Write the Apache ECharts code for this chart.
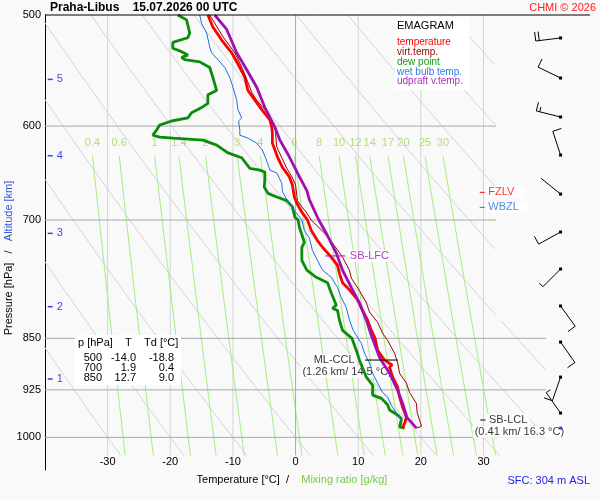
<!DOCTYPE html>
<html><head><meta charset="utf-8">
<script src="https://cdn.jsdelivr.net/npm/echarts@6.0.0/dist/echarts.min.js"></script>
<style>html,body{margin:0;padding:0;background:#f9f9f9}#c{width:600px;height:500px}</style>
</head><body><div id="c"></div>
<script>
// ---------------- data ----------------
const pressureTicks = [500, 600, 700, 850, 925, 1000];
const tempTicks = [-30, -20, -10, 0, 10, 20, 30];
const mixRatios = [0.4, 0.6, 1, 1.4, 2, 3, 4, 6, 8, 10, 12, 14, 17, 20, 25, 30];
const dryAdiabatTheta = [-30, -20, -10, 0, 10, 20, 30, 40, 50, 60, 70, 80, 90, 100];
const altKm = [1, 2, 3, 4, 5];
const altP = [908.7, 807.0, 715.5, 629.9, 555.7];

const tempP = [500,510,521,532,545,554,566,575,584,594,601,607,617,631,642,652,661,674,681,691,700,712,724,732,744,754,764,776,785,798,812,825,839,850,867,881,888,891,906,921,936,952,968,977,985];
const tempT = [-14.0,-13.2,-11.8,-10.2,-8.9,-8.1,-7.6,-6.5,-5.4,-4.1,-3.8,-3.7,-3.7,-2.9,-2.1,-1.0,-0.5,-0.2,0.2,1.0,1.9,2.5,3.5,4.3,5.7,6.7,7.0,7.5,8.6,9.9,10.7,11.5,12.1,12.7,13.1,14.2,15.4,15.0,15.5,16.3,16.6,17.1,17.7,17.4,17.1];

const virtP = [500,518,532,547,563,568,575,584,594,601,607,621,632,643,652,661,678,685,692,700,715,730,744,760,770,786,802,814,828,843,853,871,885,900,915,929,946,960,972,982,985];
const virtT = [-13.7,-11.6,-9.7,-8.4,-7.3,-7.0,-6.2,-4.9,-3.8,-3.3,-3.2,-3.0,-2.2,-1.4,-0.6,0.0,0.3,1.0,1.8,2.5,4.6,6.2,7.5,8.6,8.9,10.2,11.3,11.8,13.1,13.9,14.7,15.8,16.3,16.6,17.7,18.2,19.3,19.4,19.8,20.1,19.3];

const dewP = [500,504,515,519,523,528,531,534,536,538,540,545,554,566,570,578,582,587,592,595,599,604,609,611,612,614,619,627,632,643,645,647,656,663,670,674,678,685,697,700,708,726,732,748,760,769,776,789,805,809,812,825,839,850,867,881,906,918,933,938,948,956,964,970,983,985];
const dewT = [-18.8,-17.4,-16.9,-17.2,-19.6,-19.6,-18.2,-17.2,-18.2,-17.7,-15.3,-13.7,-13.2,-12.6,-14.0,-14.0,-15.0,-16.6,-17.2,-19.8,-21.7,-22.2,-22.8,-21.7,-19.5,-14.8,-12.6,-10.8,-8.6,-7.3,-5.7,-4.9,-4.9,-5.0,-4.4,-3.0,-1.4,-0.5,-0.1,0.4,0.6,1.4,1.0,1.0,1.8,3.3,5.1,5.7,6.5,5.9,6.7,7.0,7.5,9.0,9.7,10.2,11.3,12.3,12.3,13.7,14.7,15.0,16.3,16.9,16.6,17.4];

const wetP = [500,507,515,527,532,538,545,554,563,575,584,592,595,604,609,612,617,624,637,645,648,659,668,678,689,700,712,721,736,748,760,769,782,795,808,825,839,857,871,885,900,915,929,936,949,961,972,983];
const wetT = [-15.3,-15.0,-14.2,-13.7,-13.4,-12.4,-11.3,-10.5,-10.0,-9.4,-9.2,-8.6,-9.1,-8.9,-8.9,-7.6,-6.2,-5.3,-4.5,-4.1,-3.0,-2.2,-2.1,-1.3,-0.2,1.0,1.4,2.2,2.7,3.5,4.3,5.7,6.7,7.3,8.1,8.6,9.2,10.5,11.0,11.8,12.3,13.1,13.9,14.7,15.3,16.1,16.9,17.0];

const parcelP = [500,512,532,547,563,582,601,614,631,648,667,677,700,718,739,760,782,802,825,846,853,877,900,926,946,968,985];
const parcelT = [-12.9,-11.0,-9.4,-7.8,-6.2,-4.9,-3.3,-2.5,-1.0,0.3,1.8,2.2,3.7,5.1,6.5,7.5,8.9,10.2,11.3,12.1,12.4,13.4,15.0,16.3,17.1,17.8,19.3];

const windP   = [519.2, 554.5, 591.1, 629.2, 670.8, 713.9, 758.6, 806.1, 855.2, 905.8, 960.9];
const windDir = [263, 296, 284, 342, 309, 241, 225, 144, 145, 199, 325];
const windSpd = [20, 10, 15, 10, 2, 10, 5, 10, 10, 10, 5];
const surfaceP = 985;

const tableP  = [500, 700, 850];
const tableT  = [-14.0, 1.9, 12.7];
const tableTd = [-18.8, 0.4, 9.0];

const lfcP = 742.5;
const cclP = 880.8, cclKm = 1.26, cclTemp = 14.5;
const lclP = 971.9, lclKm = 0.41, lclTemp = 16.3;
const fzlvP = 668.9, wbzlP = 685.6;
const sfcHeightM = 304;

// ---------------- chart ----------------
const FONT = '"Liberation Sans", Arial, sans-serif';
const T_MIN = -40, T_MAX = 47, P_TOP = 500, P_BOT = 1055, P_GRID_BOT = 1030;
const C_RED = '#ff0000', C_VIRT = '#990000', C_DEW = '#0b8c0b', C_WET = '#1e6ee6', C_PARCEL = '#a010b0';

const series = [];
const line = (data, color, width, z) => ({
  type: 'line', data: data, symbol: 'none', silent: true, animation: false, clip: true,
  lineStyle: { color: color, width: width }, z: z, emphasis: { disabled: true }
});

// isotherms (0 °C darker)
tempTicks.forEach(t => series.push(line([[t, P_TOP], [t, P_GRID_BOT]], t === 0 ? '#a9a9a9' : '#d4d4d4', 1, t === 0 ? 1.5 : 1)));
// isobars
const isobarEnd = p => p === 500 ? T_MAX : (p >= 850 ? 40 : 32);
pressureTicks.forEach(p => {
  const s = line([[T_MIN, p], [isobarEnd(p), p]], p === 500 ? '#000' : '#a9a9a9', 1, p === 500 ? 6 : 1.5);
  if (p === 500) s.clip = false;
  series.push(s);
});
// dry adiabats
const limitT = p => p >= 825 ? 40 : 32;
dryAdiabatTheta.forEach(th => {
  let seg = [];
  for (let p = 500; p <= P_GRID_BOT; p += 2) {
    const t = (th + 273.15) * Math.pow(p / 1000, 0.2857) - 273.15;
    if (t <= limitT(p)) seg.push([t, p]);
    else { if (seg.length > 1) series.push(line(seg, '#d2d2d2', 1, 1)); seg = []; }
  }
  if (seg.length > 1) series.push(line(seg, '#d2d2d2', 1, 1));
});
// mixing ratio lines
const tdFromW = (w, p) => { const e = w * p / (622 + w); const l = Math.log(e / 6.112); return 243.5 * l / (17.67 - l); };
mixRatios.forEach(w => {
  const pts = [];
  for (let p = 630; p <= P_GRID_BOT; p += 20) pts.push([tdFromW(w, p), p]);
  series.push(line(pts, '#a6ef7e', 1, 1));
});
series.push({
  type: 'scatter', silent: true, animation: false, z: 1, symbolSize: 1,
  itemStyle: { color: 'rgba(0,0,0,0)' },
  data: mixRatios.map(w => ({ value: [tdFromW(w, 630), 630], name: String(w) })),
  label: { show: true, position: 'top', distance: 7, formatter: p => p.name, color: '#a3d65c', fontSize: 11, fontFamily: FONT }
});

// profiles
const prof = (P, T, color, width, z) => line(P.map((p, i) => [T[i], p]), color, width, z);
series.push(prof(dewP, dewT, C_DEW, 2.8, 3));
series.push(prof(wetP, wetT, C_WET, 1, 3));
series.push(prof(tempP, tempT, C_RED, 2.8, 3));
series.push(prof(virtP, virtT, C_VIRT, 1, 3));
series.push(prof(parcelP, parcelT, C_PARCEL, 2.8, 3));

// annotation markers
series.push(line([[4.75, lfcP], [7.94, lfcP]], C_PARCEL, 1, 4));
series.push(line([[11.1, cclP], [16.3, cclP]], '#000', 1, 4));
series.push(line([[29.5, lclP], [30.3, lclP]], '#000', 1, 4));
series.push(line([[29.4, fzlvP], [30.2, fzlvP]], C_RED, 1, 4));
series.push(line([[29.4, wbzlP], [30.2, wbzlP]], C_WET, 1, 4));

const lab = (color, extra) => Object.assign({ show: true, color: color, fontSize: 11, fontFamily: FONT, backgroundColor: '#ffffff', padding: [1, 2, 0, 2] }, extra);
series.push({
  type: 'scatter', silent: true, animation: false, z: 2.5, symbolSize: 1,
  itemStyle: { color: 'rgba(0,0,0,0)' },
  data: [
    { value: [7.94, lfcP], label: lab(C_PARCEL, { position: 'right', distance: 2, formatter: 'SB-LFC' }) },
    { value: [11.1, cclP], label: lab('#000', { position: 'left', distance: 8, formatter: 'ML-CCL' }) },
    { value: [11.1, cclP], label: lab('#000', { position: 'inside', offset: [-18, 12], formatter: '(' + cclKm + ' km/ ' + cclTemp.toFixed(1) + ' °C)' }) },
    { value: [30.3, lclP], label: lab('#000', { position: 'right', distance: 1, formatter: 'SB-LCL' }) },
    { value: [30.3, lclP], label: lab('#000', { position: 'inside', offset: [34, 12], formatter: '(' + lclKm + ' km/ ' + lclTemp.toFixed(1) + ' °C)' }) },
    { value: [30.2, fzlvP], label: lab(C_RED, { position: 'right', distance: 1, padding: [1, 10, 0, 2], formatter: 'FZLV' }) },
    { value: [30.2, wbzlP], label: lab(C_WET, { position: 'right', distance: 1, padding: [1, 10, 0, 2], formatter: 'WBZL' }) }
  ]
});

// altitude ticks
series.push({
  type: 'scatter', silent: true, animation: false, z: 4, symbol: 'rect', symbolSize: [5, 1.5],
  itemStyle: { color: '#1010ee' },
  data: altP.map((p, i) => ({ value: [-39.17, p], name: String(altKm[i]) })),
  label: { show: true, position: 'right', distance: 4, formatter: p => p.name, color: '#1010ee', fontSize: 11, fontFamily: FONT }
});

// wind barbs
const barbT = 42.3;
series.push({
  type: 'custom', coordinateSystem: 'cartesian2d', silent: true, animation: false, z: 5, clip: false,
  encode: { x: 0, y: 1 },
  data: windP.map((p, i) => [barbT, p, windDir[i], windSpd[i]]),
  renderItem: function (params, api) {
    const c = api.coord([api.value(0), api.value(1)]);
    const dir = api.value(2) * Math.PI / 180, spd = api.value(3);
    const sx = Math.sin(dir), sy = -Math.cos(dir);
    const L = 25, ex = c[0] + L * sx, ey = c[1] + L * sy;
    const px = -sy, py = sx;
    const kids = [
      { type: 'line', shape: { x1: c[0], y1: c[1], x2: ex, y2: ey }, style: { stroke: '#000', lineWidth: 1 } },
      { type: 'rect', shape: { x: c[0] - 1.5, y: c[1] - 1.5, width: 3, height: 3 }, style: { fill: '#000' } }
    ];
    let full = Math.floor(spd / 10), half = (spd % 10) >= 5 ? 1 : 0, k = 0;
    for (let i = 0; i < full; i++, k++) {
      const bx = ex - k * 3.5 * sx, by = ey - k * 3.5 * sy;
      kids.push({ type: 'line', shape: { x1: bx, y1: by, x2: bx + 9 * px, y2: by + 9 * py }, style: { stroke: '#000', lineWidth: 1 } });
    }
    if (half) {
      const bx = ex - k * 3.5 * sx, by = ey - k * 3.5 * sy;
      kids.push({ type: 'line', shape: { x1: bx, y1: by, x2: bx + 5 * px, y2: by + 5 * py }, style: { stroke: '#000', lineWidth: 1 } });
    }
    return { type: 'group', children: kids };
  }
});
// surface point
series.push({
  type: 'scatter', silent: true, animation: false, z: 5, symbol: 'rect', symbolSize: [2.5, 3],
  itemStyle: { color: '#1010ee' }, data: [[barbT, surfaceP]]
});

// ---------------- texts ----------------
const txt = (x, y, text, color, size, extra) => ({
  type: 'text', x: x, y: y, z: 10, silent: true,
  style: Object.assign({ text: text, fill: color, font: size + 'px ' + FONT, verticalAlign: 'middle', textVerticalAlign: 'middle', align: 'left', textAlign: 'left' }, extra || {})
});
const rightTxt = (x, y, text, color, size) => txt(x, y, text, color, size, { align: 'right', textAlign: 'right' });

const graphics = [
  txt(50, 8, 'Praha-Libus    15.07.2026 00 UTC', '#000', 12, { font: 'bold 12px ' + FONT }),
  rightTxt(596, 8, 'CHMI © 2026', '#ff2020', 11),
  { type: 'rect', z: 9, silent: true, shape: { x: 395, y: 17, width: 74, height: 73 }, style: { fill: '#ffffff' } },
  txt(397, 26, 'EMAGRAM', '#000', 11),
  txt(397, 42.5, 'temperature', C_RED, 10),
  txt(397, 52.3, 'virt.temp.', C_VIRT, 10),
  txt(397, 62, 'dew point', '#139a13', 10),
  txt(397, 72, 'wet bulb temp.', '#2f7cf0', 10),
  txt(397, 81.7, 'udpraft v.temp.', '#b02ec0', 10),
  { type: 'rect', z: 9, silent: true, shape: { x: 75, y: 335, width: 106, height: 50 }, style: { fill: '#ffffff' } },
  txt(78, 343, 'p [hPa]', '#000', 11),
  txt(125, 343, 'T', '#000', 11),
  txt(144, 343, 'Td [°C]', '#000', 11),
  rightTxt(590, 481, 'SFC: ' + sfcHeightM + ' m ASL', '#2323e6', 11)
];
const rowY = [358.3, 368.3, 378.3];
tableP.forEach((p, i) => {
  graphics.push(rightTxt(102, rowY[i], String(p), '#000', 11));
  graphics.push(rightTxt(136, rowY[i], tableT[i].toFixed(1), '#000', 11));
  graphics.push(rightTxt(174, rowY[i], tableTd[i].toFixed(1), '#000', 11));
});

const chart = echarts.init(document.getElementById('c'), null, { renderer: 'canvas' });
chart.setOption({
  animation: false,
  backgroundColor: '#f9f9f9',
  textStyle: { fontFamily: FONT },
  grid: { left: 45, right: 10, top: 15, bottom: 30, containLabel: false, outerBoundsMode: 'none' },
  xAxis: {
    type: 'value', min: T_MIN, max: T_MAX, interval: 10,
    axisLine: { show: false, onZero: false }, axisTick: { show: false }, splitLine: { show: false },
    axisLabel: { margin: -14, color: '#000', fontSize: 11, fontFamily: FONT,
      formatter: v => tempTicks.indexOf(v) >= 0 ? String(v) : '' },
    name: '{a|Temperature [°C]  /    }{b|Mixing ratio [g/kg]}',
    nameLocation: 'middle', nameGap: 4, nameMoveOverlap: false,
    nameTextStyle: { rich: {
      a: { color: '#000', fontSize: 11, fontFamily: FONT },
      b: { color: '#77cc44', fontSize: 11, fontFamily: FONT, padding: [0, 51, 0, 0] } } }
  },
  yAxis: {
    type: 'log', logBase: 10, min: P_TOP, max: P_BOT, inverse: true,
    axisLine: { show: true, onZero: false, lineStyle: { color: '#000', width: 1 } },
    axisTick: { show: false }, splitLine: { show: false }, minorSplitLine: { show: false },
    axisLabel: { customValues: pressureTicks, margin: 4, color: '#000', fontSize: 11, fontFamily: FONT,
      formatter: v => String(Math.round(v)) },
    name: '{a|Pressure [hPa]   /   }{b|Altitude [km]}',
    nameLocation: 'middle', nameRotate: 90, nameGap: 31, nameMoveOverlap: false,
    nameTextStyle: { rich: {
      a: { color: '#000', fontSize: 11, fontFamily: FONT },
      b: { color: '#3355dd', fontSize: 11, fontFamily: FONT, padding: [0, 31, 0, 0] } } }
  },
  series: series,
  graphic: { elements: graphics }
});
</script></body></html>
